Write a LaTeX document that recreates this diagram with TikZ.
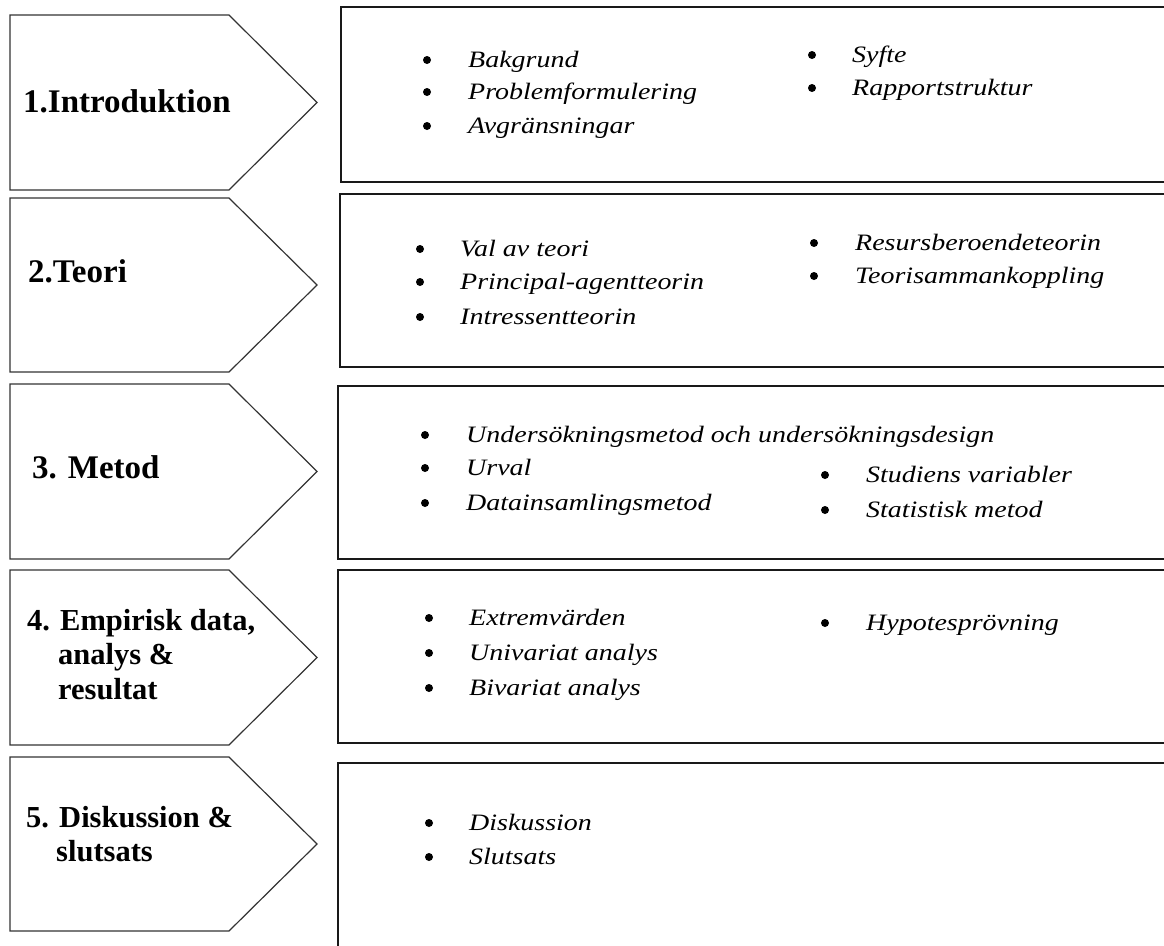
\documentclass[tikz,border=0pt]{standalone}
\usepackage{fontspec}
\setmainfont{Liberation Serif}
\newfontfamily\itemfont[FakeStretch=1.19]{Liberation Serif}
\begin{document}
\begin{tikzpicture}[x=1pt,y=-1pt,
    chap/.style={draw=black!80,line width=1.2pt},
    box/.style={draw=black!90,line width=1.4pt},
    lab/.style={anchor=base west,inner sep=0pt,font=\fontsize{33}{34}\selectfont\bfseries},
    labsmall/.style={lab,font=\fontsize{30.5}{34}\selectfont\bfseries},
    itm/.style={anchor=base west,inner sep=0pt,font=\fontsize{23.5}{26}\selectfont\itemfont\itshape},
    dot/.style={circle,fill=black,inner sep=0pt,minimum size=8pt}]

\useasboundingbox (0,0) rectangle (1164,945);
\clip (0,0) rectangle (1164,945);

\foreach \ya/\yb in {15/190,198/372,384/559,570/745,757/931}
    \draw[chap] (10,\ya)--(229,\ya)--(317,{(\ya+\yb)/2})--(229,\yb)--(10,\yb)--cycle;
\foreach \xl/\ya/\yb in {341/7/182,340/194/367,338/386/559,338/570/743,338/763/960}
    \draw[box] (\xl,\ya) rectangle (1180,\yb);

\node[lab] (intro) at (23,112) {1.Introduktion};
\node[lab] (teori) at (28,282) {2.Teori};
\node[lab] (metod) at (32,478) {3. Metod};
\node[labsmall] (empiri) at (27,630) {4. Empirisk data,};
\node[labsmall] (empiri2) at (58,664) {analys \&};
\node[labsmall] (empiri3) at (58,699) {resultat};
\node[labsmall] (disk) at (26,827) {5. Diskussion \&};
\node[labsmall] (disk2) at (56,861) {slutsats};

\foreach \x/\tx/\y/\txt [count=\i] in {
    427/468/67/Bakgrund, 427/468/99/Problemformulering, 427/468/133/Avgränsningar,
    812/852/62/Syfte, 812/852/95/Rapportstruktur,
    420/460/256/Val av teori, 420/460/289/Principal-agentteorin, 420/460/324/Intressentteorin,
    814/855/250/Resursberoendeteorin, 814/855/283/Teorisammankoppling,
    425/466/442/Undersökningsmetod och undersökningsdesign, 425/466/475/Urval,
    425/466/510/Datainsamlingsmetod,
    825/866/482/Studiens variabler, 825/866/517/Statistisk metod,
    429/469/625/Extremvärden, 429/469/660/Univariat analys, 429/469/695/Bivariat analys,
    825/866/630/Hypotesprövning,
    429/469/830/Diskussion, 429/469/864/Slutsats}
{
    \node[dot] (b\i) at (\x,\y-7) {};
    \node[itm] (t\i) at (\tx,\y) {\txt};
}
\end{tikzpicture}
\end{document}
